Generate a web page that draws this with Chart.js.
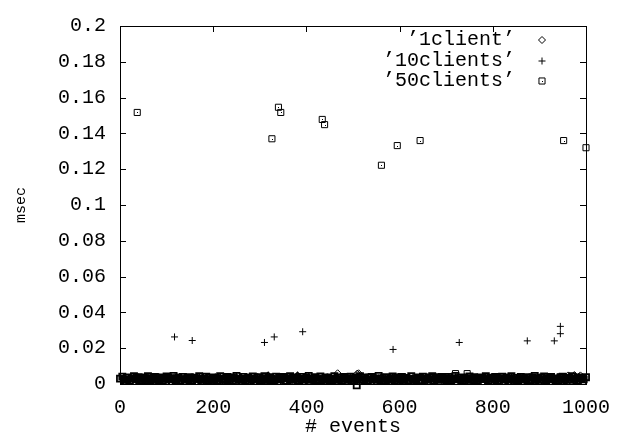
<!DOCTYPE html>
<html>
<head>
<meta charset="utf-8">
<title>msec per event</title>
<script src="https://cdn.jsdelivr.net/npm/chart.js@4.4.1/dist/chart.umd.min.js"></script>
<style>
    body {
        margin: 0;
        background: #ffffff;
    }
    #wrap {
        width: 623px;
        height: 442px;
    }
</style>
</head>
<body>
<div id="wrap">
    <canvas id="eventsChart" width="623" height="442"></canvas>
</div>
<script>
// one reading every 5 events for the dense band near zero
const bandStep = 5;

const seriesLabels = ["\u20191client\u2019", "\u201910clients\u2019", "\u201950clients\u2019"];

const xTicks = [0, 200, 400, 600, 800, 1000];
const yTicks = [0, 0.02, 0.04, 0.06, 0.08, 0.1, 0.12, 0.14, 0.16, 0.18, 0.2];

const client1Band = [
    0.0024, 0.0019, 0.0031, 0.0022, 0.0027, 0.0017, 0.0029, 0.0023, 0.0033, 0.0020,
    0.0026, 0.0018, 0.0030, 0.0024, 0.0021, 0.0028, 0.0016, 0.0032, 0.0025, 0.0019,
    0.0027, 0.0022, 0.0034, 0.0018, 0.0026, 0.0029, 0.0020, 0.0024, 0.0031, 0.0017,
    0.0028, 0.0021, 0.0025, 0.0033, 0.0019, 0.0027, 0.0023, 0.0030, 0.0018, 0.0026,
    0.0022, 0.0029, 0.0016, 0.0031, 0.0024, 0.0020, 0.0028, 0.0025, 0.0033, 0.0019,
    0.0027, 0.0021, 0.0030, 0.0017, 0.0026, 0.0032, 0.0023, 0.0018, 0.0029, 0.0024,
    0.0020, 0.0034, 0.0022, 0.0027, 0.0016, 0.0030, 0.0025, 0.0019, 0.0028, 0.0023,
    0.0031, 0.0018, 0.0026, 0.0021, 0.0033, 0.0024, 0.0017, 0.0029, 0.0022, 0.0027,
    0.0020, 0.0032, 0.0025, 0.0018, 0.0030, 0.0023, 0.0028, 0.0016, 0.0026, 0.0031,
    0.0021, 0.0027, 0.0019, 0.0034, 0.0024, 0.0029, 0.0017, 0.0025, 0.0022, 0.0030,
    0.0018, 0.0028, 0.0023, 0.0033, 0.0020, 0.0026, 0.0031, 0.0016, 0.0027, 0.0024,
    0.0029, 0.0019, 0.0032, 0.0022, 0.0025, 0.0017, 0.0030, 0.0021, 0.0028, 0.0034,
    0.0023, 0.0018, 0.0026, 0.0031, 0.0020, 0.0027, 0.0024, 0.0016, 0.0029, 0.0022,
    0.0033, 0.0019, 0.0025, 0.0030, 0.0017, 0.0028, 0.0021, 0.0026, 0.0032, 0.0023,
    0.0018, 0.0029, 0.0024, 0.0020, 0.0031, 0.0027, 0.0016, 0.0025, 0.0033, 0.0022,
    0.0028, 0.0019, 0.0030, 0.0024, 0.0017, 0.0026, 0.0032, 0.0021, 0.0027, 0.0018,
    0.0034, 0.0023, 0.0029, 0.0020, 0.0025, 0.0031, 0.0016, 0.0028, 0.0022, 0.0026,
    0.0019, 0.0030, 0.0024, 0.0033, 0.0018, 0.0027, 0.0021, 0.0029, 0.0025, 0.0017,
    0.0032, 0.0023, 0.0028, 0.0020, 0.0026, 0.0031, 0.0019, 0.0024, 0.0030, 0.0022,
    0.0027, 0.0016, 0.0029, 0.0025, 0.0033, 0.0021, 0.0028, 0.0018, 0.0026, 0.0031,
    0.0024
];
const client1SpikeX = [318, 381, 467, 509, 512, 962, 975, 988];
const client1SpikeY = [0.0045, 0.0045, 0.0060, 0.0058, 0.0060, 0.0048, 0.0050, 0.0048];

const clients10Band = [
    0.0033, 0.0027, 0.0039, 0.0022, 0.0036, 0.0030, 0.0041, 0.0025, 0.0034, 0.0028,
    0.0038, 0.0021, 0.0035, 0.0031, 0.0026, 0.0040, 0.0023, 0.0037, 0.0029, 0.0033,
    0.0024, 0.0039, 0.0027, 0.0035, 0.0020, 0.0032, 0.0042, 0.0026, 0.0036, 0.0030,
    0.0022, 0.0038, 0.0034, 0.0028, 0.0041, 0.0025, 0.0031, 0.0037, 0.0023, 0.0035,
    0.0029, 0.0040, 0.0021, 0.0033, 0.0027, 0.0039, 0.0032, 0.0024, 0.0036, 0.0030,
    0.0042, 0.0026, 0.0034, 0.0020, 0.0038, 0.0028, 0.0035, 0.0023, 0.0031, 0.0040,
    0.0025, 0.0037, 0.0029, 0.0033, 0.0022, 0.0039, 0.0027, 0.0036, 0.0030, 0.0024,
    0.0041, 0.0032, 0.0026, 0.0038, 0.0021, 0.0034, 0.0028, 0.0037, 0.0023, 0.0035,
    0.0031, 0.0040, 0.0025, 0.0033, 0.0029, 0.0042, 0.0022, 0.0036, 0.0027, 0.0039,
    0.0030, 0.0024, 0.0038, 0.0032, 0.0020, 0.0035, 0.0028, 0.0041, 0.0026, 0.0034,
    0.0023, 0.0037, 0.0031, 0.0039, 0.0025, 0.0033, 0.0029, 0.0021, 0.0036, 0.0040,
    0.0027, 0.0034, 0.0022, 0.0038, 0.0030, 0.0035, 0.0024, 0.0041, 0.0028, 0.0032,
    0.0037, 0.0020, 0.0033, 0.0026, 0.0039, 0.0031, 0.0023, 0.0036, 0.0029, 0.0042,
    0.0025, 0.0034, 0.0038, 0.0022, 0.0030, 0.0027, 0.0040, 0.0033, 0.0021, 0.0035,
    0.0029, 0.0037, 0.0024, 0.0032, 0.0041, 0.0026, 0.0036, 0.0028, 0.0039, 0.0023,
    0.0034, 0.0030, 0.0020, 0.0038, 0.0027, 0.0035, 0.0031, 0.0042, 0.0025, 0.0033,
    0.0022, 0.0039, 0.0029, 0.0036, 0.0024, 0.0040, 0.0028, 0.0032, 0.0037, 0.0021,
    0.0035, 0.0026, 0.0041, 0.0030, 0.0034, 0.0023, 0.0038, 0.0027, 0.0033, 0.0039,
    0.0024, 0.0036, 0.0031, 0.0020, 0.0037, 0.0029, 0.0035, 0.0025, 0.0040, 0.0032,
    0.0028, 0.0034, 0.0022, 0.0038, 0.0030, 0.0036, 0.0026, 0.0041, 0.0033, 0.0027,
    0.0035
];
const clients10SpikeX = [117, 155, 310, 331, 392, 586, 728, 874, 932, 945, 945];
const clients10SpikeY = [0.0263, 0.0243, 0.0232, 0.0263, 0.0292, 0.0193, 0.0232, 0.0241, 0.0241, 0.0281, 0.0322];

const clients50Band = [
    0.0030, 0.0041, 0.0024, 0.0036, 0.0019, 0.0033, 0.0044, 0.0027, 0.0038, 0.0022,
    0.0035, 0.0029, 0.0043, 0.0021, 0.0032, 0.0039, 0.0025, 0.0037, 0.0018, 0.0034,
    0.0042, 0.0028, 0.0031, 0.0045, 0.0023, 0.0036, 0.0020, 0.0040, 0.0026, 0.0033,
    0.0038, 0.0019, 0.0035, 0.0029, 0.0044, 0.0024, 0.0031, 0.0041, 0.0022, 0.0037,
    0.0027, 0.0034, 0.0018, 0.0043, 0.0030, 0.0025, 0.0039, 0.0021, 0.0036, 0.0032,
    0.0045, 0.0023, 0.0028, 0.0040, 0.0019, 0.0035, 0.0031, 0.0042, 0.0026, 0.0038,
    0.0020, 0.0033, 0.0044, 0.0024, 0.0037, 0.0029, 0.0022, 0.0041, 0.0027, 0.0034,
    0.0039, 0.0018, 0.0032, 0.0043, 0.0025, 0.0036, 0.0030, 0.0021, 0.0040, 0.0028,
    0.0035, 0.0045, 0.0023, 0.0031, 0.0038, 0.0019, 0.0042, 0.0026, 0.0033, 0.0037,
    0.0022, 0.0029, 0.0044, 0.0024, 0.0036, 0.0020, 0.0039, 0.0032, 0.0027, 0.0041,
    0.0018, 0.0034, 0.0030, 0.0043, 0.0025, 0.0037, 0.0021, 0.0035, 0.0040, 0.0028,
    0.0023, 0.0045, 0.0031, 0.0019, 0.0038, 0.0026, 0.0033, 0.0042, 0.0022, 0.0036,
    0.0029, 0.0039, 0.0024, 0.0034, 0.0020, 0.0044, 0.0027, 0.0032, 0.0037, 0.0018,
    0.0041, 0.0030, 0.0025, 0.0036, 0.0043, 0.0021, 0.0035, 0.0028, 0.0039, 0.0023,
    0.0033, 0.0040, 0.0019, 0.0031, 0.0045, 0.0026, 0.0037, 0.0022, 0.0034, 0.0029,
    0.0042, 0.0024, 0.0038, 0.0020, 0.0032, 0.0036, 0.0027, 0.0044, 0.0021, 0.0035,
    0.0030, 0.0039, 0.0018, 0.0033, 0.0041, 0.0025, 0.0037, 0.0028, 0.0043, 0.0023,
    0.0034, 0.0019, 0.0040, 0.0031, 0.0026, 0.0038, 0.0022, 0.0036, 0.0045, 0.0029,
    0.0024, 0.0035, 0.0042, 0.0020, 0.0033, 0.0039, 0.0027, 0.0031, 0.0018, 0.0037,
    0.0041, 0.0028, 0.0034, 0.0023, 0.0044, 0.0030, 0.0021, 0.0036, 0.0032, 0.0026,
    0.0038
];
const clients50SpikeX = [37, 326, 340, 345, 434, 439, 508, 561, 595, 644, 720, 745, 952, 1000];
const clients50SpikeY = [0.1517, 0.1370, 0.1546, 0.1517, 0.1478, 0.1449, -0.0008, 0.1222, 0.1332, 0.1360, 0.0058, 0.0058, 0.1360, 0.1320];

const monoFont = "'Liberation Mono', 'DejaVu Sans Mono', monospace";

function toPoints(band, spikeX, spikeY) {
    const points = band.map((v, i) => ({ x: i * bandStep, y: v }));
    spikeX.forEach((x, i) => {
        points.push({ x: x, y: spikeY[i] });
    });
    return points;
}

// heavier strokes inside the crowded band so it reads as solid, like the original
function bandWidth(ctx) {
    if (ctx.raw && ctx.raw.y < 0.0047) return 1.8;
    return 1;
}

// gnuplot style: frame with inward ticks on all four sides, key at top right
const framePlugin = {
    id: "frame",
    afterDatasetsDraw(chart) {
        const ctx = chart.ctx;
        const area = chart.chartArea;
        const xs = chart.scales.x;
        const ys = chart.scales.y;
        const tick = 6;

        ctx.save();
        ctx.strokeStyle = "#000000";
        ctx.lineWidth = 1;
        ctx.beginPath();
        xTicks.forEach((v) => {
            const px = Math.round(xs.getPixelForValue(v)) + 0.5;
            ctx.moveTo(px, area.bottom);
            ctx.lineTo(px, area.bottom - tick);
            ctx.moveTo(px, area.top);
            ctx.lineTo(px, area.top + tick);
        });
        yTicks.forEach((v) => {
            const py = Math.round(ys.getPixelForValue(v)) + 0.5;
            ctx.moveTo(area.left, py);
            ctx.lineTo(area.left + tick, py);
            ctx.moveTo(area.right, py);
            ctx.lineTo(area.right - tick, py);
        });
        ctx.stroke();
        ctx.strokeRect(
            Math.round(area.left) + 0.5,
            Math.round(area.top) + 0.5,
            Math.round(area.right - area.left),
            Math.round(area.bottom - area.top)
        );

        // dot in the middle of each box marker
        const boxes = chart.getDatasetMeta(2);
        ctx.fillStyle = "#000000";
        boxes.data.forEach((el) => {
            if (el.y < 300) {
                ctx.fillRect(Math.round(el.x), Math.round(el.y), 1, 1);
            }
        });

        // key
        ctx.font = "20px " + monoFont;
        ctx.textAlign = "right";
        ctx.textBaseline = "middle";
        const keyRows = [40, 61, 81];
        chart.data.datasets.forEach((ds, i) => {
            ctx.fillStyle = "#000000";
            ctx.fillText(ds.label, 515, keyRows[i]);
            ctx.fillStyle = "rgba(0,0,0,0)";
            Chart.helpers.drawPoint(ctx, {
                pointStyle: ds.pointStyle,
                radius: ds.pointRadius,
                borderWidth: 1
            }, 542, keyRows[i]);
            if (i === 2) {
                ctx.fillStyle = "#000000";
                ctx.fillRect(542, keyRows[i], 1, 1);
            }
        });
        ctx.restore();
    }
};

function renderEventsChart() {
    new Chart(document.getElementById("eventsChart"), {
        type: "scatter",
        data: {
            datasets: [{
                label: seriesLabels[0],
                data: toPoints(client1Band, client1SpikeX, client1SpikeY),
                pointStyle: "rectRot",
                pointRadius: 3.5,
                borderColor: "#000000",
                backgroundColor: "rgba(0,0,0,0)",
                borderWidth: bandWidth
            }, {
                label: seriesLabels[1],
                data: toPoints(clients10Band, clients10SpikeX, clients10SpikeY),
                pointStyle: "cross",
                pointRadius: 3.5,
                borderColor: "#000000",
                backgroundColor: "rgba(0,0,0,0)",
                borderWidth: bandWidth
            }, {
                label: seriesLabels[2],
                data: toPoints(clients50Band, clients50SpikeX, clients50SpikeY),
                pointStyle: "rect",
                pointRadius: 4.3,
                borderColor: "#000000",
                backgroundColor: "rgba(0,0,0,0)",
                borderWidth: bandWidth,
                clip: false
            }]
        },
        options: {
            responsive: false,
            animation: false,
            events: [],
            layout: {
                padding: {
                    left: 0,
                    right: 37,
                    top: 14,
                    bottom: 0
                }
            },
            scales: {
                x: {
                    type: "linear",
                    min: 0,
                    max: 1000,
                    afterFit: (scale) => { scale.height = 58; },
                    afterBuildTicks: (scale) => {
                        scale.ticks = xTicks.map((v) => ({ value: v }));
                    },
                    grid: {
                        display: false,
                        drawTicks: false
                    },
                    border: {
                        display: false
                    },
                    ticks: {
                        padding: 12,
                        color: "#000000",
                        font: { family: monoFont, size: 20 },
                        maxRotation: 0,
                        callback: (v) => String(v)
                    },
                    title: {
                        display: true,
                        text: "# events",
                        color: "#000000",
                        font: { family: monoFont, size: 20 },
                        padding: { top: 0, bottom: 3 }
                    }
                },
                y: {
                    type: "linear",
                    min: 0,
                    max: 0.2,
                    afterFit: (scale) => { scale.width = 120; },
                    afterBuildTicks: (scale) => {
                        scale.ticks = yTicks.map((v) => ({ value: v }));
                    },
                    grid: {
                        display: false,
                        drawTicks: false
                    },
                    border: {
                        display: false
                    },
                    ticks: {
                        padding: 14,
                        color: "#000000",
                        font: { family: monoFont, size: 20 },
                        callback: (v) => String(+v.toFixed(2))
                    },
                    title: {
                        display: true,
                        text: "msec",
                        color: "#000000",
                        font: { family: monoFont, size: 15 },
                        padding: { top: 12, bottom: 0 }
                    }
                }
            },
            plugins: {
                legend: { display: false },
                tooltip: { enabled: false }
            }
        },
        plugins: [framePlugin]
    });
}

renderEventsChart();
</script>
</body>
</html>
